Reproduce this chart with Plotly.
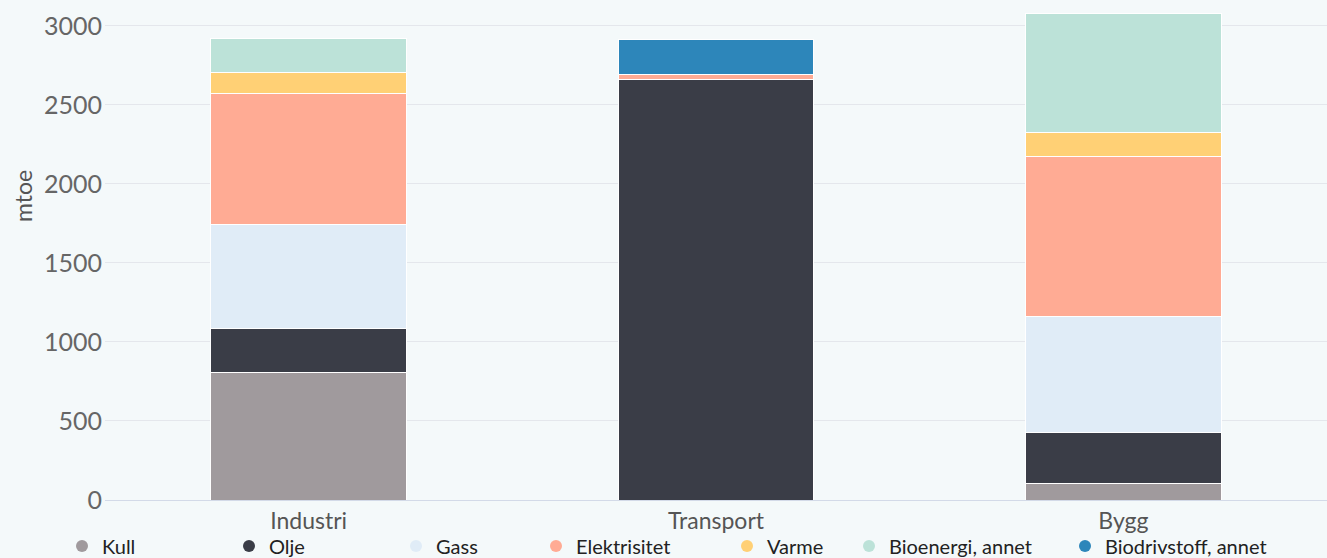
import plotly.graph_objects as go

categories = ["Industri", "Transport", "Bygg"]
series_names = ["Kull", "Olje", "Gass", "Elektrisitet", "Varme", "Bioenergi, annet", "Biodrivstoff, annet"]
kull = [804, 0, 103]
olje = [278, 2663, 325]
gass = [659, 0, 730]
elektrisitet = [829, 31, 1013]
varme = [137, 0, 154]
bioenergi = [211, 0, 751]
biodrivstoff = [0, 217, 0]
colors = ["#a09a9d", "#3a3d47", "#e0ecf7", "#ffab94", "#ffd075", "#bce2d8", "#2d86ba"]
legend_x = [82, 249, 416, 556, 747, 869, 1085]

values = [kull, olje, gass, elektrisitet, varme, bioenergi, biodrivstoff]

fig = go.Figure()
for i, (name, vals, col) in enumerate(zip(series_names, values, colors)):
    fig.add_trace(go.Bar(
        x=categories, y=vals, name=name, showlegend=False,
        marker=dict(color=col, line=dict(color="white", width=1)),
    ))
    lg = "legend" if i == 0 else f"legend{i+1}"
    fig.add_trace(go.Scatter(
        x=[None], y=[None], mode="markers", name=name, legend=lg,
        marker=dict(color=col, size=12, symbol="circle"),
    ))

W, H = 1327, 558
layout_legends = {}
for i, lx in enumerate(legend_x):
    key = "legend" if i == 0 else f"legend{i+1}"
    layout_legends[key] = dict(
        x=(lx - 20) / W, y=12 / H, xref="container", yref="container",
        xanchor="left", yanchor="middle", orientation="h",
        bgcolor="rgba(0,0,0,0)", itemwidth=30,
        font=dict(family="Lato, sans-serif", size=20, color="#222222"),
    )

fig.update_layout(
    barmode="stack",
    bargap=0.519,
    width=W, height=H,
    paper_bgcolor="#f4f9fa", plot_bgcolor="#f4f9fa",
    margin=dict(l=105, r=0, t=10, b=58, autoexpand=False),
    font=dict(family="Lato, sans-serif"),
    xaxis=dict(
        showgrid=False, showline=True, linecolor="#d3dae8", linewidth=1,
        tickfont=dict(size=23, color="#555555"), ticks="",
    ),
    yaxis=dict(
        range=[0, 3100], tickvals=[0, 500, 1000, 1500, 2000, 2500, 3000],
        gridcolor="#e4e7ec", gridwidth=1, zeroline=False,
        tickfont=dict(size=25, color="#666666"),
        ticklabelstandoff=2,
    ),
    annotations=[dict(
        text="mtoe", textangle=-90, showarrow=False,
        xref="paper", yref="paper", x=(23 - 105) / 1222, y=(500 - 196) / 490,
        xanchor="center", yanchor="middle",
        font=dict(family="Lato, sans-serif", size=23, color="#555555"),
    )],
    **layout_legends,
)

fig.write_html(
    "out.html",
    config={"displayModeBar": False},
    post_script="document.body.style.margin='0';document.body.style.overflow='hidden';",
)
